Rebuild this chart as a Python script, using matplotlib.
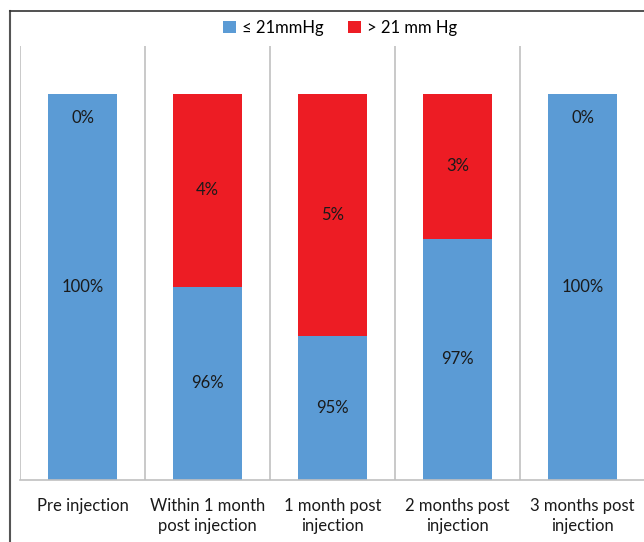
import numpy as np
import matplotlib.pyplot as plt
from matplotlib.lines import Line2D

categories = ["Pre injection", "Within 1 month\npost injection", "1 month post\ninjection",
              "2 months post\ninjection", "3 months post\ninjection"]
# segment heights as drawn in the original (not proportional to the labels)
low_height = [100, 50, 37.4, 62.4, 100]
high_height = [0, 50, 62.6, 37.6, 0]
low_labels = ["100%", "96%", "95%", "97%", "100%"]
high_labels = ["0%", "4%", "5%", "3%", "0%"]

blue = "#5B9BD5"
red = "#ED1C24"

plt.rcParams['font.family'] = ['Lato', 'DejaVu Sans']

fig = plt.figure(figsize=(6.44, 5.42), dpi=100)
W, H = 644, 542
ax = fig.add_axes([20 / W, (H - 480) / H, 625 / W, (480 - 46) / H])

x = np.arange(len(categories))
ax.bar(x, low_height, width=0.556, color=blue, label="≤ 21mmHg", zorder=2)
ax.bar(x, high_height, width=0.556, bottom=low_height, color=red, label="> 21 mm Hg", zorder=2)

for i in range(len(categories)):
    ax.text(x[i], low_height[i] / 2, low_labels[i], ha="center", va="center", fontsize=12, color="#1a1a1a")
    if high_height[i] > 0:
        ypos = low_height[i] + high_height[i] / 2
    else:
        ypos = 100 - 6.2
    ax.text(x[i], ypos, high_labels[i], ha="center", va="center", fontsize=12, color="#1a1a1a")

ax.set_xlim(-0.5, len(categories) - 0.5)
ax.set_ylim(0, 100 * 434 / 386.3)
ax.set_yticks([])
ax.set_xticks(x)
ax.set_xticklabels(categories, fontsize=12, color="#1a1a1a", linespacing=1.3)
ax.tick_params(axis="x", length=0, pad=13)

# vertical separators between categories
for b in np.arange(-0.5, len(categories), 1.0):
    ax.axvline(b, color="#c0c0c0", lw=1.2, zorder=1)

for s in ["top", "right", "left"]:
    ax.spines[s].set_visible(False)
ax.spines["bottom"].set_color("#c0c0c0")
ax.spines["bottom"].set_linewidth(1.2)

fig.legend(loc="center", bbox_to_anchor=(340 / W, 1 - 28 / H), ncol=2, frameon=False,
           fontsize=12, handlelength=0.75, handleheight=0.75, handletextpad=0.35,
           columnspacing=1.5)

# outer frame (cut off at right and bottom)
fig.add_artist(Line2D([9.5 / W, 9.5 / W], [0, 1 - 11 / H], transform=fig.transFigure,
                      color="#555555", lw=1.5))
fig.add_artist(Line2D([9.5 / W, 1], [1 - 11 / H, 1 - 11 / H], transform=fig.transFigure,
                      color="#333333", lw=1.2))

fig.savefig("out.png", dpi=100)
